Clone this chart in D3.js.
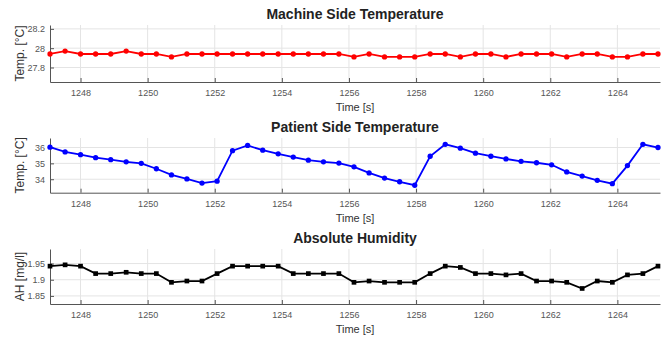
<!DOCTYPE html>
<html>
<head>
<meta charset="utf-8">
<script src="https://cdn.jsdelivr.net/npm/d3@7"></script>
<style>
  body { margin: 0; background: #fff; }
  svg { font-family: "Liberation Sans", Arial, sans-serif; }
</style>
</head>
<body>
<div id="svgDiv" style="width:670px;height:338px"></div>
<script>
// sample times [s]
var times = [1247.09, 1247.54, 1248.00, 1248.45, 1248.90, 1249.36, 1249.81, 1250.26, 1250.71, 1251.17,
             1251.62, 1252.07, 1252.53, 1252.98, 1253.43, 1253.89, 1254.34, 1254.79, 1255.24, 1255.70,
             1256.15, 1256.60, 1257.06, 1257.51, 1257.96, 1258.42, 1258.87, 1259.32, 1259.77, 1260.23,
             1260.68, 1261.13, 1261.59, 1262.04, 1262.49, 1262.95, 1263.40, 1263.85, 1264.30, 1264.76,
             1265.21];

// machine side temperature [°C]
var machineTemp = [27.94, 27.97, 27.94, 27.94, 27.94, 27.97, 27.94, 27.94, 27.91, 27.94,
                   27.94, 27.94, 27.94, 27.94, 27.94, 27.94, 27.94, 27.94, 27.94, 27.94,
                   27.91, 27.94, 27.91, 27.91, 27.91, 27.94, 27.94, 27.91, 27.94, 27.94,
                   27.91, 27.94, 27.94, 27.94, 27.91, 27.94, 27.94, 27.91, 27.91, 27.94,
                   27.94];

// patient side temperature [°C]
var patientTemp = [36.02, 35.72, 35.55, 35.36, 35.23, 35.10, 35.00, 34.66, 34.27, 34.02,
                   33.76, 33.88, 35.80, 36.13, 35.83, 35.60, 35.40, 35.20, 35.10, 35.02,
                   34.78, 34.40, 34.07, 33.84, 33.62, 35.45, 36.20, 35.96, 35.64, 35.45,
                   35.28, 35.13, 35.04, 34.91, 34.46, 34.20, 33.93, 33.72, 34.86, 36.20,
                   36.00];

// absolute humidity [mg/l]
var humidity = [1.942, 1.946, 1.942, 1.919, 1.919, 1.923, 1.919, 1.919, 1.892, 1.896,
                1.896, 1.919, 1.942, 1.942, 1.942, 1.942, 1.919, 1.919, 1.919, 1.919,
                1.892, 1.896, 1.892, 1.892, 1.892, 1.919, 1.942, 1.938, 1.919, 1.919,
                1.915, 1.919, 1.896, 1.896, 1.892, 1.873, 1.896, 1.892, 1.915, 1.919,
                1.942];

var xTicks = [1248, 1250, 1252, 1254, 1256, 1258, 1260, 1262, 1264];

var panels = [
  {title: "Machine Side Temperature", ylabel: "Temp. [°C]", values: machineTemp, color: "#ff0000",
   domain: [27.65, 28.24], ticks: [27.8, 28, 28.2], top: 25, bottom: 82, marker: "circle"},
  {title: "Patient Side Temperature", ylabel: "Temp. [°C]", values: patientTemp, color: "#0000ff",
   domain: [33.15, 36.6], ticks: [34, 35, 36], top: 138, bottom: 192.7, marker: "circle"},
  {title: "Absolute Humidity", ylabel: "AH [mg/l]", values: humidity, color: "#000000",
   domain: [1.825, 1.995], ticks: [1.85, 1.9, 1.95], top: 249, bottom: 304, marker: "square"}
];

var svgWidth = 670, svgHeight = 338;
var left = 50, right = 660;

var svg = d3.select("#svgDiv").append("svg")
  .attr("width", svgWidth)
  .attr("height", svgHeight);

var xScale = d3.scaleLinear()
  .domain([1247.09, 1265.27])
  .range([left, right]);

panels.forEach(function(p) {
  var yScale = d3.scaleLinear().domain(p.domain).range([p.bottom, p.top]);
  var g = svg.append("g");

  // grid
  g.selectAll(".vgrid").data(xTicks).enter().append("line")
    .attr("x1", d => xScale(d)).attr("x2", d => xScale(d))
    .attr("y1", p.top).attr("y2", p.bottom)
    .attr("stroke", "#e4e4e4").attr("stroke-width", 1);
  g.selectAll(".hgrid").data(p.ticks).enter().append("line")
    .attr("x1", left).attr("x2", right)
    .attr("y1", d => yScale(d)).attr("y2", d => yScale(d))
    .attr("stroke", "#e4e4e4").attr("stroke-width", 1);

  // axes (inward ticks)
  var xAxis = g.append("g")
    .attr("transform", "translate(0," + p.bottom + ")")
    .call(d3.axisBottom(xScale).tickValues(xTicks).tickFormat(d => String(d))
      .tickSizeInner(-4).tickSizeOuter(0).tickPadding(8));
  var yAxis = g.append("g")
    .attr("transform", "translate(" + left + ",0)")
    .call(d3.axisLeft(yScale).tickValues(p.ticks).tickFormat(d => String(d))
      .tickSizeInner(-4).tickSizeOuter(0).tickPadding(5));
  [xAxis, yAxis].forEach(function(a) {
    a.select(".domain").attr("stroke", "#555").attr("stroke-width", 1);
    a.selectAll(".tick line").attr("stroke", "#555");
    a.selectAll(".tick text").attr("fill", "#555").style("font-size", "9px")
      .style("font-family", "'Liberation Sans', Arial, sans-serif");
  });

  // line
  var pts = times.map((t, i) => ({t: t, v: p.values[i]}));
  g.append("path")
    .datum(pts)
    .attr("fill", "none")
    .attr("stroke", p.color)
    .attr("stroke-width", 1.8)
    .attr("d", d3.line().x(d => xScale(d.t)).y(d => yScale(d.v)));

  // markers
  var sym = d3.symbol().type(p.marker == "square" ? d3.symbolSquare : d3.symbolCircle).size(22);
  g.selectAll(".mk").data(pts).enter().append("path")
    .attr("transform", d => "translate(" + xScale(d.t) + "," + yScale(d.v) + ")")
    .attr("d", sym)
    .attr("fill", p.color);

  // title
  g.append("text")
    .attr("x", (left + right) / 2).attr("y", p.top - 6)
    .attr("text-anchor", "middle")
    .style("font-size", "14px").style("font-weight", "bold")
    .attr("fill", "#222")
    .text(p.title);

  // x label
  g.append("text")
    .attr("x", (left + right) / 2).attr("y", p.bottom + 29)
    .attr("text-anchor", "middle")
    .style("font-size", "11px")
    .attr("fill", "#333")
    .text("Time [s]");

  // y label
  g.append("text")
    .attr("transform", "translate(24," + (p.top + p.bottom) / 2 + ") rotate(-90)")
    .attr("text-anchor", "middle")
    .style("font-size", "12px")
    .attr("fill", "#333")
    .text(p.ylabel);
});
</script>
</body>
</html>
